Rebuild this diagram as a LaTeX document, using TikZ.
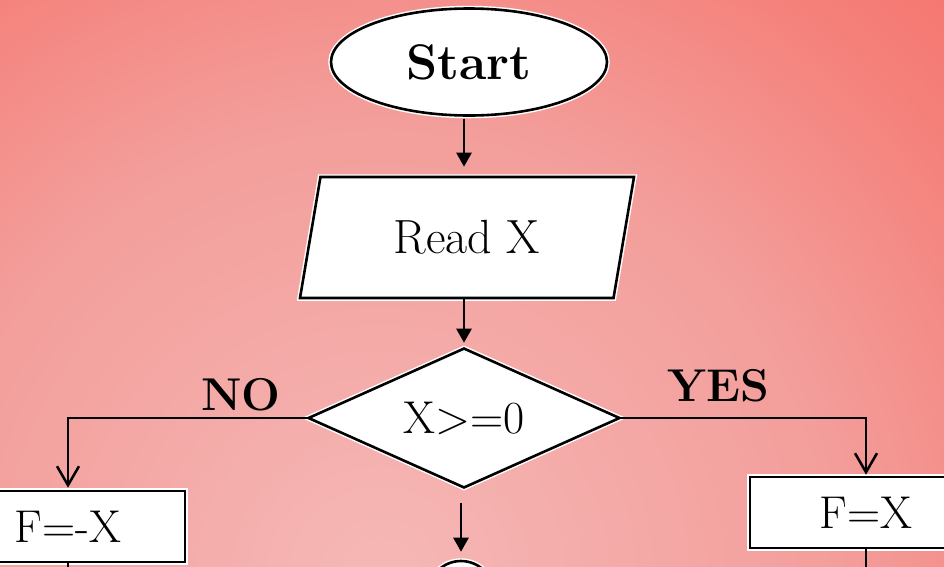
\documentclass[tikz,border=0pt]{standalone}
\usepackage{fontspec}
\usetikzlibrary{shapes.geometric,arrows.meta}
\definecolor{bgin}{RGB}{245,184,182}
\definecolor{bgmid}{RGB}{243,158,155}
\definecolor{bgmid2}{RGB}{245,130,124}
\definecolor{bgout}{RGB}{246,116,110}
\pgfdeclareradialshading{bgshade}{\pgfpoint{0bp}{0bp}}{color(0bp)=(bgin); color(13.5bp)=(bgmid); color(20.5bp)=(bgmid2); color(25bp)=(bgout); color(50bp)=(bgout)}
\begin{document}
\begin{tikzpicture}[x=1pt,y=-1pt,
  shapeline/.style={draw=black, line width=2.6pt, fill=white, inner sep=0pt,
    preaction={draw=white, line width=5.5pt}},
  txt/.style={font=\fontsize{46}{50}\selectfont},
  boldtxt/.style={font=\bfseries\fontsize{46}{50}\selectfont},
  fillarrow/.style={draw, line width=2.5pt, -{Triangle[length=14pt,width=15pt]}},
  openarrow/.style={draw, line width=2.5pt, -{Straight Barb[length=19pt,width=22pt,line width=2.5pt]}},
  plainline/.style={draw, line width=2.5pt}
]
\useasboundingbox (0,0) rectangle (944,566);
\clip (0,0) rectangle (944,566);
\fill[bgout] (0,0) rectangle (944,566);
\shade[shading=bgshade] (380,580) circle[radius=850pt];

\node[ellipse, shapeline, minimum width=276pt, minimum height=107pt, boldtxt,
      font=\bfseries\fontsize{50}{54}\selectfont] (start) at (469,62) {Start};
\node[trapezium, trapezium left angle=59, trapezium right angle=121, trapezium stretches body,
      minimum width=334pt, minimum height=121pt, shapeline, txt,
      font=\fontsize{48}{52}\selectfont] (read) at (467,237.5) {Read X};
\node[diamond, shape aspect=2.23, shapeline, minimum width=312pt, minimum height=140pt, txt] (dec) at (464,418) {X>=0};
\node[rectangle, shapeline, minimum width=234pt, minimum height=71pt, txt] (fneg) at (68,526.5) {F=-X};
\node[rectangle, shapeline, minimum width=232pt, minimum height=71pt, txt] (fpos) at (866,512.5) {F=X};
\node[circle, shapeline, minimum size=66pt] (nxt) at (461,594) {};

\node[boldtxt, inner sep=0pt] (no) at (241,395) {NO};
\node[boldtxt, inner sep=0pt] (yes) at (718,386) {YES};

\coordinate (fnegout) at (68,600);
\coordinate (fposout) at (866,600);

\draw[fillarrow, shorten <=2pt, shorten >=9pt] (start.south -| dec.north) -- (read.north -| dec.north);
\draw[fillarrow, shorten >=4pt] (read.south -| dec.north) -- (dec.north);
\draw[openarrow, shorten >=2pt] (dec.west) -| (fneg.north);
\draw[openarrow, shorten >=1pt] (dec.east) -| (fpos.north);
\draw[fillarrow, shorten <=14pt, shorten >=8pt] (dec.south -| nxt.north) -- (nxt.north);
\draw[plainline] (fneg.south) -- (fnegout);
\draw[plainline] (fpos.south) -- (fposout);
\end{tikzpicture}
\end{document}
